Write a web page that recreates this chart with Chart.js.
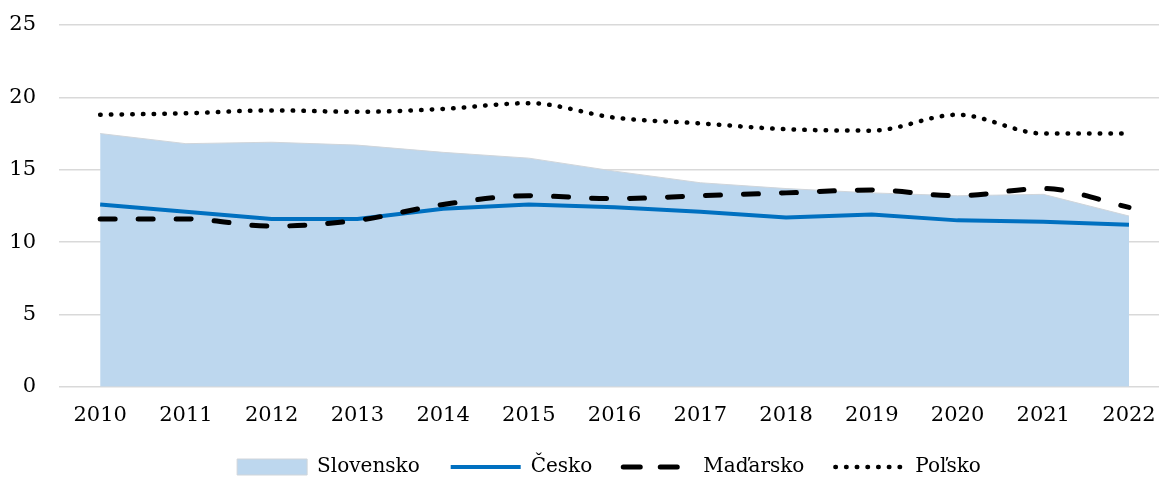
<!DOCTYPE html>
<html>
<head>
<meta charset="utf-8">
<script src="https://cdn.jsdelivr.net/npm/chart.js@4.4.1/dist/chart.umd.min.js"></script>
<style>
  html, body { margin: 0; padding: 0; background: #fff; }
  #wrap { width: 1159px; height: 478px; }
</style>
</head>
<body>
<div id="wrap"><canvas id="chart" width="1159" height="478"></canvas></div>
<script>
  var years = [2010, 2011, 2012, 2013, 2014, 2015, 2016, 2017, 2018, 2019, 2020, 2021, 2022];
  var slovensko = [17.5, 16.8, 16.9, 16.7, 16.2, 15.8, 14.9, 14.1, 13.7, 13.4, 13.2, 13.3, 11.8];
  var cesko     = [12.6, 12.1, 11.6, 11.6, 12.3, 12.6, 12.4, 12.1, 11.7, 11.9, 11.5, 11.4, 11.2];
  var madarsko  = [11.6, 11.6, 11.1, 11.5, 12.6, 13.2, 13.0, 13.2, 13.4, 13.6, 13.2, 13.7, 12.4];
  var polsko    = [18.8, 18.9, 19.1, 19.0, 19.2, 19.6, 18.6, 18.2, 17.8, 17.7, 18.8, 17.5, 17.5];
  var yTicks = [0, 5, 10, 15, 20, 25];

  function pts(arr) {
    return arr.map(function (v, i) { return { x: years[i], y: v }; });
  }

  var FONT = '"DejaVu Serif", "Liberation Serif", serif';

  // shrink the legend box a bit so it sits lower, like the original
  var legendNudge = {
    id: 'legendNudge',
    beforeLayout: function (chart) {
      var lg = chart.legend;
      if (!lg || lg._nudged) return;
      var origFit = lg.fit;
      lg.fit = function () {
        origFit.call(this);
        this.height -= 9;
      };
      lg._nudged = true;
    }
  };

  new Chart(document.getElementById('chart').getContext('2d'), {
    type: 'line',
    data: {
      datasets: [
        {
          label: 'Slovensko',
          data: pts(slovensko),
          fill: 'origin',
          backgroundColor: '#BDD7EE',
          borderColor: '#D0D5DA',
          borderWidth: 1,
          pointRadius: 0,
          pointStyle: 'rect',
          order: 4
        },
        {
          label: 'Česko',
          data: pts(cesko),
          fill: false,
          borderColor: '#0070C0',
          backgroundColor: '#0070C0',
          borderWidth: 4,
          pointRadius: 0,
          pointStyle: 'line',
          order: 3
        },
        {
          label: 'Maďarsko',
          data: pts(madarsko),
          fill: false,
          borderColor: '#000',
          backgroundColor: '#000',
          borderWidth: 5,
          borderDash: [15, 23],
          borderCapStyle: 'round',
          cubicInterpolationMode: 'monotone',
          pointRadius: 0,
          pointStyle: 'line',
          order: 2
        },
        {
          label: 'Poľsko',
          data: pts(polsko),
          fill: false,
          borderColor: '#000',
          backgroundColor: '#000',
          borderWidth: 4.5,
          borderDash: [0.5, 10.2],
          borderCapStyle: 'round',
          cubicInterpolationMode: 'monotone',
          pointRadius: 0,
          pointStyle: 'line',
          order: 1
        }
      ]
    },
    plugins: [legendNudge],
    options: {
      responsive: false,
      animation: false,
      layout: { padding: 0 },
      plugins: {
        tooltip: { enabled: false },
        legend: {
          position: 'bottom',
          fullSize: false,
          labels: {
            usePointStyle: true,
            pointStyleWidth: 70,
            boxWidth: 70,
            boxHeight: 16,
            padding: 31,
            color: '#000',
            font: { family: FONT, size: 20 },
            sort: function (a, b) { return a.datasetIndex - b.datasetIndex; },
            generateLabels: function (chart) {
              var items = Chart.defaults.plugins.legend.labels.generateLabels(chart);
              items.forEach(function (it) {
                var ds = chart.data.datasets[it.datasetIndex];
                it.pointStyle = ds.pointStyle;
                it.lineDash = it.datasetIndex === 2 ? [17, 20] : (ds.borderDash || []);
                it.lineCap = ds.borderCapStyle || 'butt';
                it.lineWidth = ds.borderWidth;
                it.strokeStyle = ds.borderColor;
                it.fillStyle = ds.backgroundColor;
              });
              return items;
            }
          }
        }
      },
      scales: {
        x: {
          type: 'linear',
          min: 2009.52,
          max: 2022.35,
          afterBuildTicks: function (axis) {
            axis.ticks = years.map(function (y) { return { value: y }; });
          },
          afterFit: function (axis) {
            axis.paddingLeft = 0;
            axis.paddingRight = 0;
            axis.height -= 10;
          },
          grid: { display: false },
          border: { display: false },
          ticks: {
            color: '#000',
            padding: 8,
            maxRotation: 0,
            autoSkip: false,
            font: { family: FONT, size: 21 },
            callback: function (v) { return String(v); }
          }
        },
        y: {
          min: 0,
          max: 25,
          afterBuildTicks: function (axis) {
            axis.ticks = yTicks.map(function (v) { return { value: v }; });
          },
          afterFit: function (axis) {
            axis.width = 59;
            axis.paddingTop = 25;
          },
          grid: { color: '#D9D9D9', lineWidth: 1.5, drawTicks: false },
          border: { display: false },
          ticks: {
            color: '#000',
            padding: 23,
            font: { family: FONT, size: 21 }
          }
        }
      }
    }
  });
</script>
</body>
</html>
